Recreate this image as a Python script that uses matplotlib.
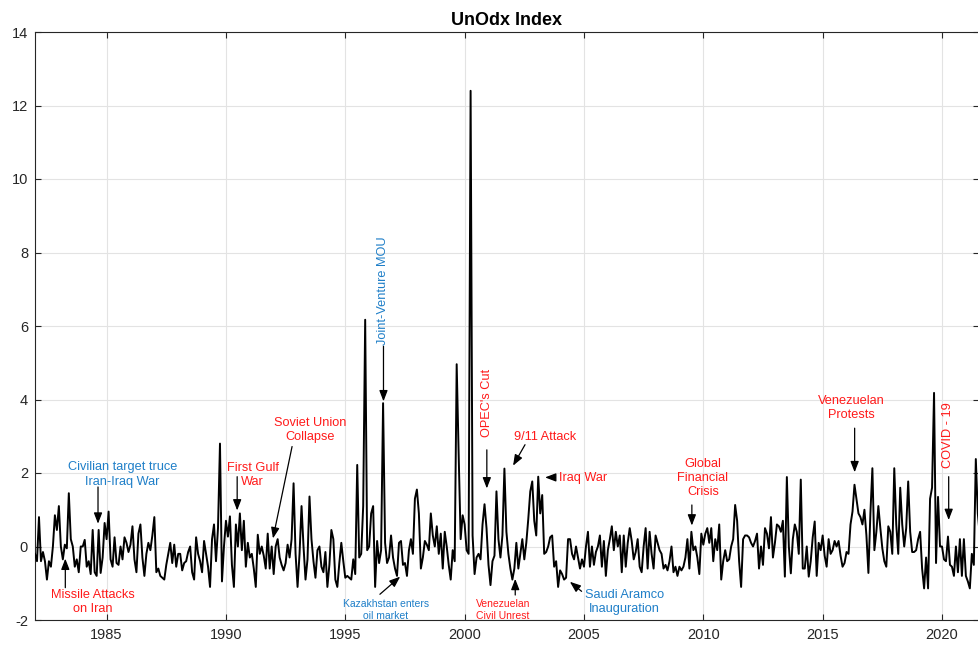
import numpy as np
import matplotlib
matplotlib.use("Agg")
import matplotlib.pyplot as plt

# ---- data: monthly UnOdx index, Jan 1982 onwards ----
START_YEAR = 1982
unodx = [
    # 1982
    -0.2, -0.4, 0.8, -0.4, -0.15, -0.4, -0.9, -0.4, -0.55, 0.0, 0.85, 0.45,
    # 1983
    1.1, 0.0, -0.35, 0.05, -0.05, 1.45, 0.2, 0.0, -0.55, -0.35, -0.7, 0.0,
    # 1984
    0.0, 0.18, -0.55, -0.4, -0.75, 0.45, -0.7, -0.8, 0.45, -0.72, -0.3, 0.64,
    # 1985
    0.2, 0.95, -0.35, -0.55, 0.25, -0.45, -0.5, 0.0, -0.35, 0.25, 0.1, -0.15,
    # 1986
    0.05, 0.55, -0.35, -0.7, 0.35, 0.6, -0.3, -0.8, -0.2, 0.1, -0.1, 0.3,
    # 1987
    0.8, -0.7, -0.6, -0.8, -0.85, -0.9, -0.5, -0.2, 0.1, -0.45, 0.05, -0.55,
    # 1988
    -0.2, -0.2, -0.65, -0.45, -0.4, -0.15, 0.0, -0.7, -0.9, 0.25, -0.2, -0.4,
    # 1989
    -0.7, 0.15, -0.2, -0.55, -1.1, 0.2, 0.6, -0.4, 0.5, 2.8, -0.95, 0.0,
    # 1990
    0.7, 0.27, 0.82, -0.5, -1.1, 0.6, 0.0, 0.9, -0.1, 0.7, -0.55, 0.1,
    # 1991
    -0.3, -0.2, -0.6, -1.1, 0.32, -0.2, 0.0, -0.25, -0.6, 0.35, -0.6, 0.0,
    # 1992
    -0.75, 0.0, 0.2, -0.3, -0.5, -0.65, -0.45, 0.05, -0.3, 0.2, 1.72, -0.2,
    # 1993
    -1.1, -0.2, 1.1, 0.0, -0.9, -0.35, 1.36, 0.2, -0.4, -0.85, -0.1, 0.0,
    # 1994
    -0.55, -0.7, -0.15, -1.1, -0.5, 0.45, 0.2, -0.9, -1.1, -0.45, 0.1, -0.4,
    # 1995
    -0.85, -0.8, -0.85, -0.9, -0.35, -0.75, 2.22, -0.3, -0.2, 1.1, 6.17, -0.1,
    # 1996
    0.0, 0.9, 1.1, -1.1, 0.15, -0.45, -0.1, 3.9, 0.1, -0.45, -0.3, 0.3,
    # 1997
    -0.3, -0.6, -0.8, 0.1, 0.15, -0.5, -0.45, -0.8, -0.1, 0.2, -0.2, 1.3,
    # 1998
    1.55, 0.9, -0.6, -0.3, 0.15, 0.05, -0.1, 0.9, 0.3, 0.0, 0.55, -0.2,
    # 1999
    0.35, -0.6, 0.4, 0.0, -0.5, -0.9, -0.1, -0.4, 4.96, 2.5, 0.2, 0.85,
    # 2000
    0.6, -0.1, -0.2, 12.4, 0.3, -0.75, -0.3, -0.2, -0.35, 0.6, 1.15, 0.5,
    # 2001
    -0.5, -1.05, -0.4, -0.25, 1.5, 0.2, -0.3, 0.3, 2.12, 0.4, -0.2, -0.6,
    # 2002
    -0.9, -0.6, 0.1, -0.6, -0.2, 0.2, -0.35, 0.1, 0.75, 1.5, 1.77, 0.7,
    # 2003
    0.3, 1.9, 0.9, 1.4, -0.2, -0.15, 0.0, 0.25, 0.3, -0.55, -0.4, -1.1,
    # 2004
    -0.65, -0.75, -0.9, -0.85, 0.2, 0.2, -0.2, -0.35, 0.0, -0.3, -0.6, -0.35,
    # 2005
    -0.55, 0.0, 0.4, -0.55, 0.0, -0.5, -0.15, 0.0, 0.3, -0.55, 0.15, -0.8,
    # 2006
    -0.1, 0.2, 0.55, -0.1, 0.4, 0.0, 0.3, -0.7, 0.3, -0.55, 0.1, 0.5,
    # 2007
    0.15, -0.35, -0.15, 0.2, -0.55, -0.7, 0.0, 0.5, -0.6, 0.4, -0.2, -0.6,
    # 2008
    0.3, 0.1, -0.1, -0.2, -0.6, -0.5, -0.65, -0.4, 0.0, -0.7, -0.55, -0.8,
    # 2009
    -0.55, -0.65, -0.55, -0.3, 0.2, -0.6, 0.4, -0.1, 0.0, -0.3, -0.75, 0.35,
    # 2010
    0.05, 0.35, 0.5, 0.1, 0.5, -0.4, 0.2, -0.1, 0.6, -0.9, -0.4, -0.1,
    # 2011
    -0.4, -0.35, 0.0, 0.2, 1.13, 0.7, -0.4, -1.1, 0.2, 0.3, 0.3, 0.25,
    # 2012
    0.1, 0.0, 0.15, 0.35, -0.6, 0.0, -0.5, 0.5, 0.35, -0.05, 0.8, -0.3,
    # 2013
    0.1, 0.6, 0.55, 0.4, 0.7, -0.82, 1.89, 0.0, -0.73, 0.2, 0.6, 0.4,
    # 2014
    -0.2, 1.82, -0.6, -0.6, 0.0, -0.82, -0.4, 0.25, 0.68, -0.8, 0.1, -0.1,
    # 2015
    0.3, -0.25, -0.55, 0.2, -0.2, -0.1, 0.15, 0.0, 0.15, -0.25, -0.55, -0.45,
    # 2016
    -0.15, -0.2, 0.6, 0.95, 1.68, 1.3, 0.9, 0.8, 0.6, 1.0, 0.3, -0.72,
    # 2017
    0.9, 2.13, -0.1, 0.4, 1.1, 0.5, -0.05, -0.4, -0.55, 0.55, 0.4, -0.2,
    # 2018
    2.13, 0.6, -0.2, 1.6, 0.6, 0.0, 0.5, 1.77, 0.4, -0.15, -0.15, -0.1,
    # 2019
    0.2, 0.4, -0.6, -1.14, -0.3, -1.14, 1.3, 1.6, 4.18, -0.45, 1.35, 0.0,
    # 2020
    0.0, -0.35, -0.4, 0.27, -0.5, -0.55, -0.8, 0.0, -0.7, 0.2, -0.8, 0.2,
    # 2021
    -0.8, -0.95, -1.14, -0.2, -0.5, 2.38, 0.9, 0.3,
]

x_ticks = [1985, 1990, 1995, 2000, 2005, 2010, 2015, 2020]
y_ticks = [-2, 0, 2, 4, 6, 8, 10, 12, 14]

RED = "#ff1a1a"
BLUE = "#1f7fc8"

# (text, text x, text y, colour, size, rotation, arrow tail, arrow head)
events = [
    ("Civilian target truce\nIran-Iraq War", 1985.67, 1.96, BLUE, 9.2, 0,
     (1984.64, 1.62), (1984.64, 0.62)),
    ("Missile Attacks\non Iran", 1984.41, -1.52, RED, 9.2, 0,
     (1983.27, -1.12), (1983.27, -0.33)),
    ("First Gulf\nWar", 1991.12, 1.95, RED, 9.2, 0,
     (1990.47, 1.90), (1990.47, 0.98)),
    ("Soviet Union\nCollapse", 1993.51, 3.18, RED, 9.2, 0,
     (1992.77, 2.72), (1991.97, 0.22)),
    ("Joint-Venture MOU", 1996.57, 6.95, BLUE, 9.2, 90,
     (1996.60, 5.45), (1996.60, 3.95)),
    ("Kazakhstan enters\noil market", 1996.70, -1.72, BLUE, 7.5, 0,
     (1996.45, -1.30), (1997.30, -0.82)),
    ("OPEC's Cut", 2000.93, 3.91, RED, 9.2, 90,
     (2000.93, 2.63), (2000.93, 1.58)),
    ("9/11 Attack", 2003.36, 2.98, RED, 9.2, 0,
     (2002.53, 2.77), (2002.03, 2.20)),
    ("Venezuelan\nCivil Unrest", 2001.60, -1.74, RED, 7.5, 0,
     (2002.12, -1.32), (2002.12, -0.88)),
    ("Saudi Aramco\nInauguration", 2006.71, -1.52, BLUE, 9.2, 0,
     (2004.90, -1.22), (2004.41, -0.96)),
    ("Global\nFinancial\nCrisis", 2009.98, 1.87, RED, 9.2, 0,
     (2009.52, 1.13), (2009.52, 0.57)),
    ("Venezuelan\nProtests", 2016.19, 3.77, RED, 9.2, 0,
     (2016.34, 3.22), (2016.34, 2.02)),
    ("COVID - 19", 2020.25, 3.04, RED, 9.2, 90,
     (2020.28, 1.90), (2020.28, 0.72)),
]

ARROW = dict(arrowstyle="-|>,head_length=0.65,head_width=0.25",
             color="black", lw=0.9, shrinkA=0, shrinkB=0)


def main():
    plt.rcParams["font.family"] = ["Liberation Sans", "DejaVu Sans"]
    plt.rcParams["axes.unicode_minus"] = False

    values = np.array(unodx)
    years = START_YEAR + np.arange(len(values)) / 12.0

    fig = plt.figure(figsize=(9.79, 6.46), dpi=100)
    ax = fig.add_axes([35 / 979, 26 / 646, 944 / 979, 588 / 646])

    ax.plot(years, values, color="black", lw=1.4, zorder=3)

    ax.set_xlim(1982, 2021.55)
    ax.set_ylim(-2, 14)
    ax.set_xticks(x_ticks)
    ax.set_yticks(y_ticks)
    ax.grid(True, color="#e3e3e3", lw=0.8, zorder=0)
    ax.set_axisbelow(True)
    ax.tick_params(direction="in", top=True, right=True, length=4,
                   labelsize=10.5, colors="#262626", labelcolor="#262626")
    ax.tick_params(axis="x", pad=6)
    ax.tick_params(axis="y", pad=5)
    for s in ax.spines.values():
        s.set_color("#262626")
        s.set_linewidth(0.8)
    ax.set_title("UnOdx Index", fontsize=13, fontweight="bold", pad=5)

    # ---- event annotations ----
    for text, tx, ty, col, size, rot, tail, head in events:
        ax.annotate("", xy=head, xytext=tail, arrowprops=ARROW, zorder=4)
        if rot == 90:
            ax.text(tx, ty, text, color=col, fontsize=size, rotation=90,
                    ha="center", va="center", zorder=5)
        else:
            ax.text(tx, ty, text, color=col, fontsize=size,
                    ha="center", va="center", linespacing=1.25, zorder=5)

    # Iraq War label sits to the right of a left-pointing arrow
    ax.annotate("", xy=(2003.37, 1.88), xytext=(2003.80, 1.88),
                arrowprops=ARROW, zorder=4)
    ax.text(2003.95, 1.87, "Iraq War", color=RED, fontsize=9.2,
            ha="left", va="center", zorder=5)

    fig.savefig("out.png", dpi=100)
    print("Saved out.png")


if __name__ == "__main__":
    main()
